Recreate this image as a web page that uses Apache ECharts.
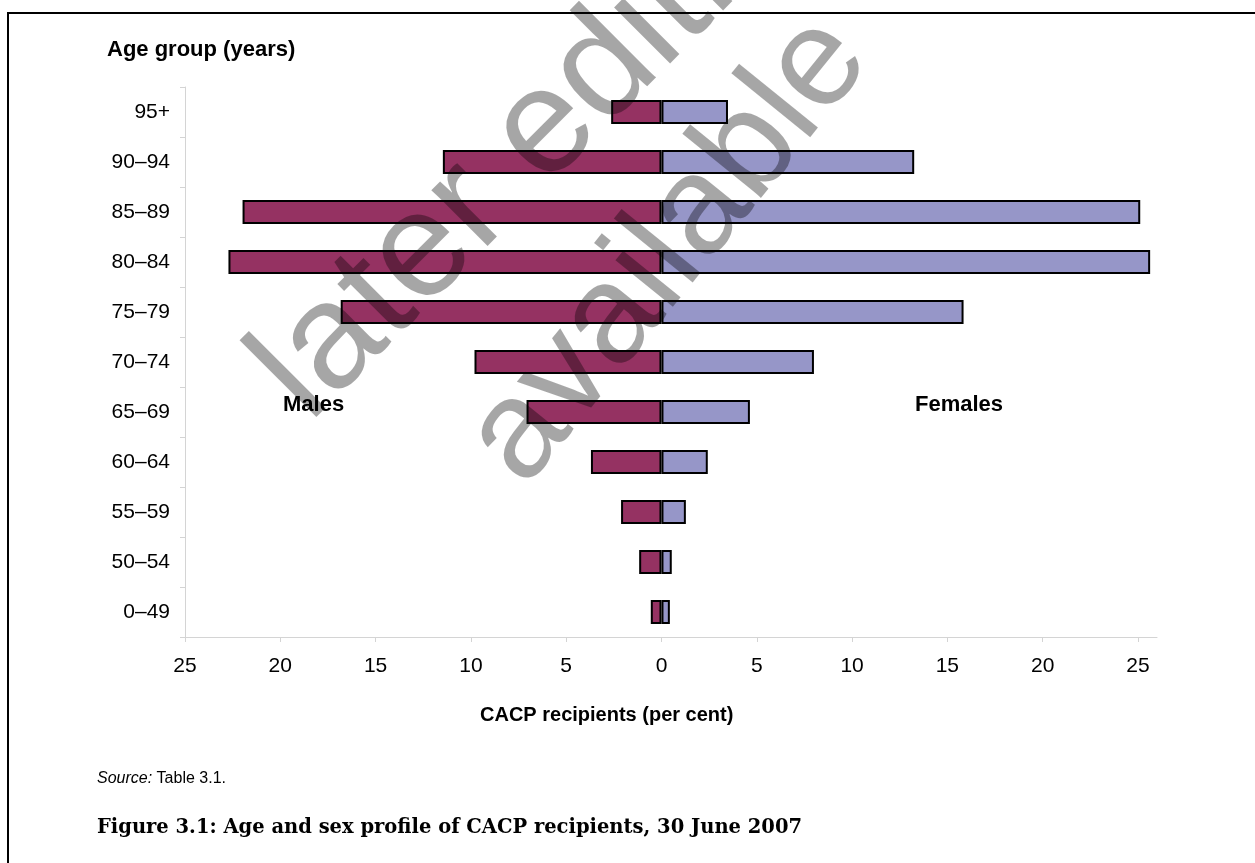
<!DOCTYPE html>
<html>
<head>
<meta charset="utf-8">
<script src="https://cdn.jsdelivr.net/npm/echarts@6/dist/echarts.min.js"></script>
<style>
  html, body { margin: 0; padding: 0; background: #fff; }
  #chart { width: 1255px; height: 863px; }
</style>
</head>
<body>
<div id="chart"></div>
<script>
// age groups, bottom to top
const ageGroups = ["0–49", "50–54", "55–59", "60–64", "65–69", "70–74", "75–79", "80–84", "85–89", "90–94", "95+"];
// per cent of CACP recipients
const males = [0.56, 1.17, 2.12, 3.70, 7.08, 9.81, 16.83, 22.72, 21.98, 11.47, 2.64];
const females = [0.44, 0.54, 1.28, 2.43, 4.64, 8.0, 15.85, 25.64, 25.12, 13.26, 3.49];
const xTicks = [-25, -20, -15, -10, -5, 0, 5, 10, 15, 20, 25];

const chart = echarts.init(document.getElementById("chart"));

const axisGrey = "#d4d4d4";
const sans = "'Liberation Sans', Arial, sans-serif";
// watermark: translucent black darkens whatever is under it, like the scanned stamp
const markStyle = { fill: "rgba(0,0,0,0.35)", textVerticalAlign: "middle", x: 0, y: 0 };

chart.setOption({
  animation: false,
  grid: { left: 185, right: 98, top: 87, bottom: 226 },
  xAxis: {
    type: "value",
    min: -25,
    max: 26,
    splitLine: { show: false },
    axisLine: { show: true, lineStyle: { color: axisGrey, width: 1 } },
    axisTick: { show: true, length: 5, lineStyle: { color: axisGrey }, customValues: xTicks },
    axisLabel: {
      customValues: xTicks,
      formatter: (v) => String(Math.abs(v)),
      color: "#000",
      fontSize: 21,
      fontFamily: sans,
      margin: 19
    }
  },
  yAxis: {
    type: "category",
    data: ageGroups,
    axisLine: { show: true, onZero: false, lineStyle: { color: axisGrey, width: 1 } },
    axisTick: { show: true, length: 5, lineStyle: { color: axisGrey } },
    axisLabel: { color: "#000", fontSize: 21, fontFamily: sans, margin: 15 }
  },
  series: [
    {
      name: "Males",
      type: "bar",
      data: males.map((v) => -v),
      barWidth: 24,
      barGap: "-100%",
      itemStyle: { color: "#953262", borderColor: "#000", borderWidth: 2 }
    },
    {
      name: "Females",
      type: "bar",
      data: females,
      barWidth: 24,
      itemStyle: { color: "#9696c8", borderColor: "#000", borderWidth: 2 }
    }
  ],
  graphic: [
    // frame
    { type: "polyline", shape: { points: [[8, 863], [8, 13], [1255, 13]] }, style: { stroke: "#000", lineWidth: 2, fill: null } },
    { type: "text", left: 107, top: 39, style: { text: "Age group (years)", font: "bold 22px " + sans, fill: "#000" } },
    { type: "text", left: 283, top: 394, style: { text: "Males", font: "bold 22px " + sans, fill: "#000" } },
    { type: "text", left: 915, top: 394, style: { text: "Females", font: "bold 22px " + sans, fill: "#000" } },
    { type: "text", left: 480, top: 705, style: { text: "CACP recipients (per cent)", font: "bold 20px " + sans, fill: "#000" } },
    {
      type: "text", left: 97, top: 771,
      style: {
        text: "{i|Source:} Table 3.1.",
        font: "16px " + sans, fill: "#000",
        rich: { i: { fontStyle: "italic", fontSize: 16, fontFamily: "Liberation Sans" } }
      }
    },
    { type: "text", left: 97, top: 818, style: { text: "Figure 3.1: Age and sex profile of CACP recipients, 30 June 2007", font: "bold 19.5px 'DejaVu Serif', serif", fill: "#000" } },
    // watermark
    { type: "text", x: 280, y: 395, rotation: Math.PI / 4, z: 100, style: Object.assign({ text: "later edition", font: "150px " + sans }, markStyle) },
    { type: "text", x: 495, y: 465, rotation: 51 * Math.PI / 180, z: 100, style: Object.assign({ text: "available", font: "140px " + sans }, markStyle) }
  ]
});
</script>
</body>
</html>
